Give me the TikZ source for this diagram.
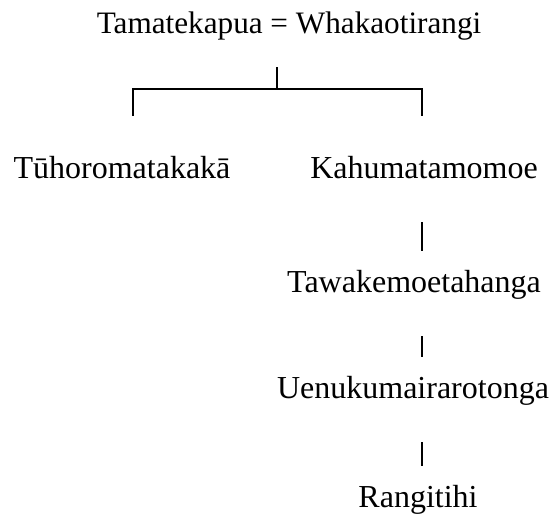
\documentclass[tikz,border=0pt]{standalone}
\usepackage{fontspec}
\setmainfont{Liberation Serif}
\begin{document}
\begin{tikzpicture}[x=1pt,y=-1pt,
  person/.style={anchor=base,inner sep=0pt,font=\fontsize{32}{38}\selectfont},
  couple/.style={person,font=\fontsize{31.2}{37}\selectfont},
  link/.style={line width=1.6pt},
  bar/.style={line width=1.6pt,shorten >=41pt,shorten <=44pt}]
\useasboundingbox (0,0) rectangle (554,520);

% parents
\node[couple] (parents) at (289,33) {Tamatekapua = Whakaotirangi};

% children
\node[person] (tuho) at (122,178) {Tūhoromatakakā};
\node[person] (kahu) at (424,178) {Kahumatamomoe};

% line of descent
\node[person] (tawa) at (414,292) {Tawakemoetahanga};
\node[person] (uenu) at (413,398) {Uenukumairarotonga};
\node[person] (rang) at (418,507) {Rangitihi};

% bracket joining the two children
\coordinate (stem) at (277,67);
\coordinate (fork) at (277,89);
\coordinate (lf) at (133,89);
\coordinate (rf) at (422,89);
\coordinate (ld) at (133,115);
\coordinate (rd) at (422,115);
\draw[link] (stem) -- (fork);
\draw[link,line cap=rect] (ld) -- (lf) -- (rf) -- (rd);

% descent bars
\coordinate (col) at (422,0);
\draw[bar] (kahu.base -| col) -- (tawa.base -| col);
\draw[bar] (tawa.base -| col) -- (uenu.base -| col);
\draw[bar] (uenu.base -| col) -- (rang.base -| col);
\end{tikzpicture}
\end{document}
